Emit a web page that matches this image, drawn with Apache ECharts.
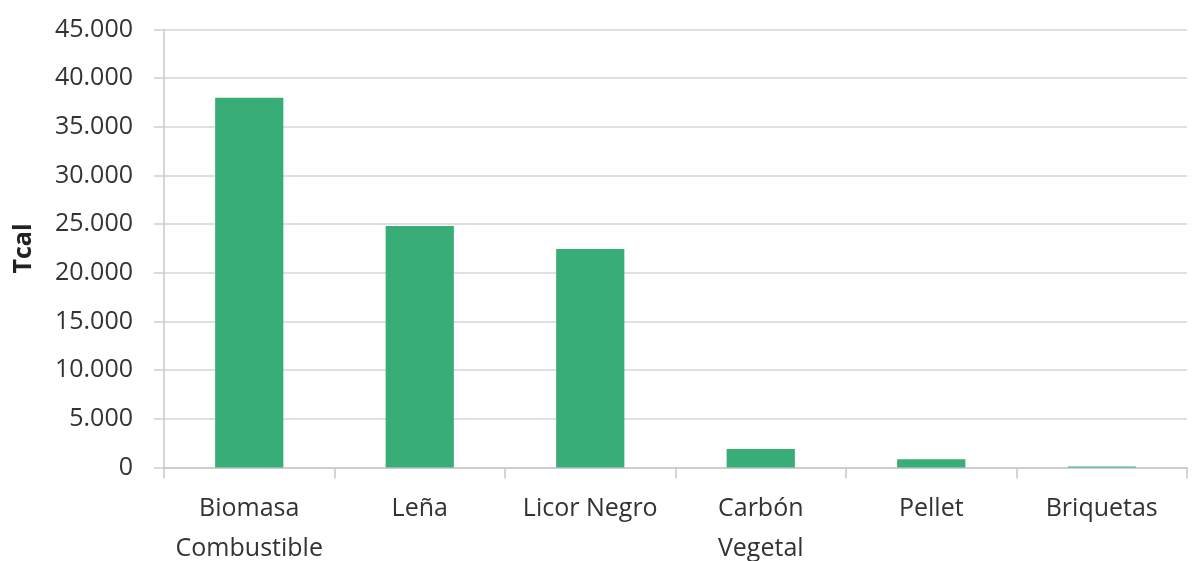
<!DOCTYPE html>
<html>
<head>
<meta charset="utf-8">
<script src="https://cdn.jsdelivr.net/npm/echarts@6/dist/echarts.min.js"></script>
<style>
  html, body { margin: 0; padding: 0; background: #ffffff; }
  #chart { width: 1193px; height: 561px; }
</style>
</head>
<body>
<div id="chart"></div>
<script>
// Energy from biomass sources (Tcal)
const categories = ['Biomasa\nCombustible', 'Leña', 'Licor Negro', 'Carbón\nVegetal', 'Pellet', 'Briquetas'];
const values = [38000, 24800, 22450, 1900, 850, 100];
const yAxisName = 'Tcal';

const FONT = '"Open Sans", "Noto Sans", sans-serif';

// Spanish thousands separator: 45000 -> 45.000
function fmt(v) {
  return String(v).replace(/\B(?=(\d{3})+(?!\d))/g, '.');
}

const chart = echarts.init(document.getElementById('chart'), null, { renderer: 'canvas' });
chart.setOption({
  animation: false,
  backgroundColor: '#ffffff',
  grid: {
    left: 164, right: 6, top: 29.5, bottom: 93.5,
    containLabel: false, outerBoundsMode: 'none'
  },
  xAxis: {
    type: 'category',
    data: categories,
    axisLine: { lineStyle: { color: '#c8c8c8', width: 1.5 } },
    axisTick: { show: true, length: 11, lineStyle: { color: '#c8c8c8', width: 1.5 } },
    axisLabel: {
      color: '#333333', fontSize: 25, fontFamily: FONT,
      lineHeight: 40, margin: 21, interval: 0
    },
    splitLine: { show: false }
  },
  yAxis: {
    type: 'value',
    min: 0, max: 45000, interval: 5000,
    name: yAxisName,
    nameLocation: 'middle',
    nameGap: 128,
    nameTextStyle: { color: '#222222', fontSize: 25, fontWeight: 'bold', fontFamily: FONT },
    axisLine: { show: true, lineStyle: { color: '#c8c8c8', width: 1.5 } },
    axisTick: { show: true, length: 10, lineStyle: { color: '#d0d0d0', width: 1.5 } },
    axisLabel: {
      color: '#333333', fontSize: 25, fontFamily: FONT, margin: 31,
      formatter: fmt
    },
    splitLine: { show: true, lineStyle: { color: '#d6d6d6', width: 1.5 } }
  },
  series: [{
    type: 'bar',
    data: values,
    barWidth: '40%',
    itemStyle: { color: '#38ad78' }
  }]
});
</script>
</body>
</html>
